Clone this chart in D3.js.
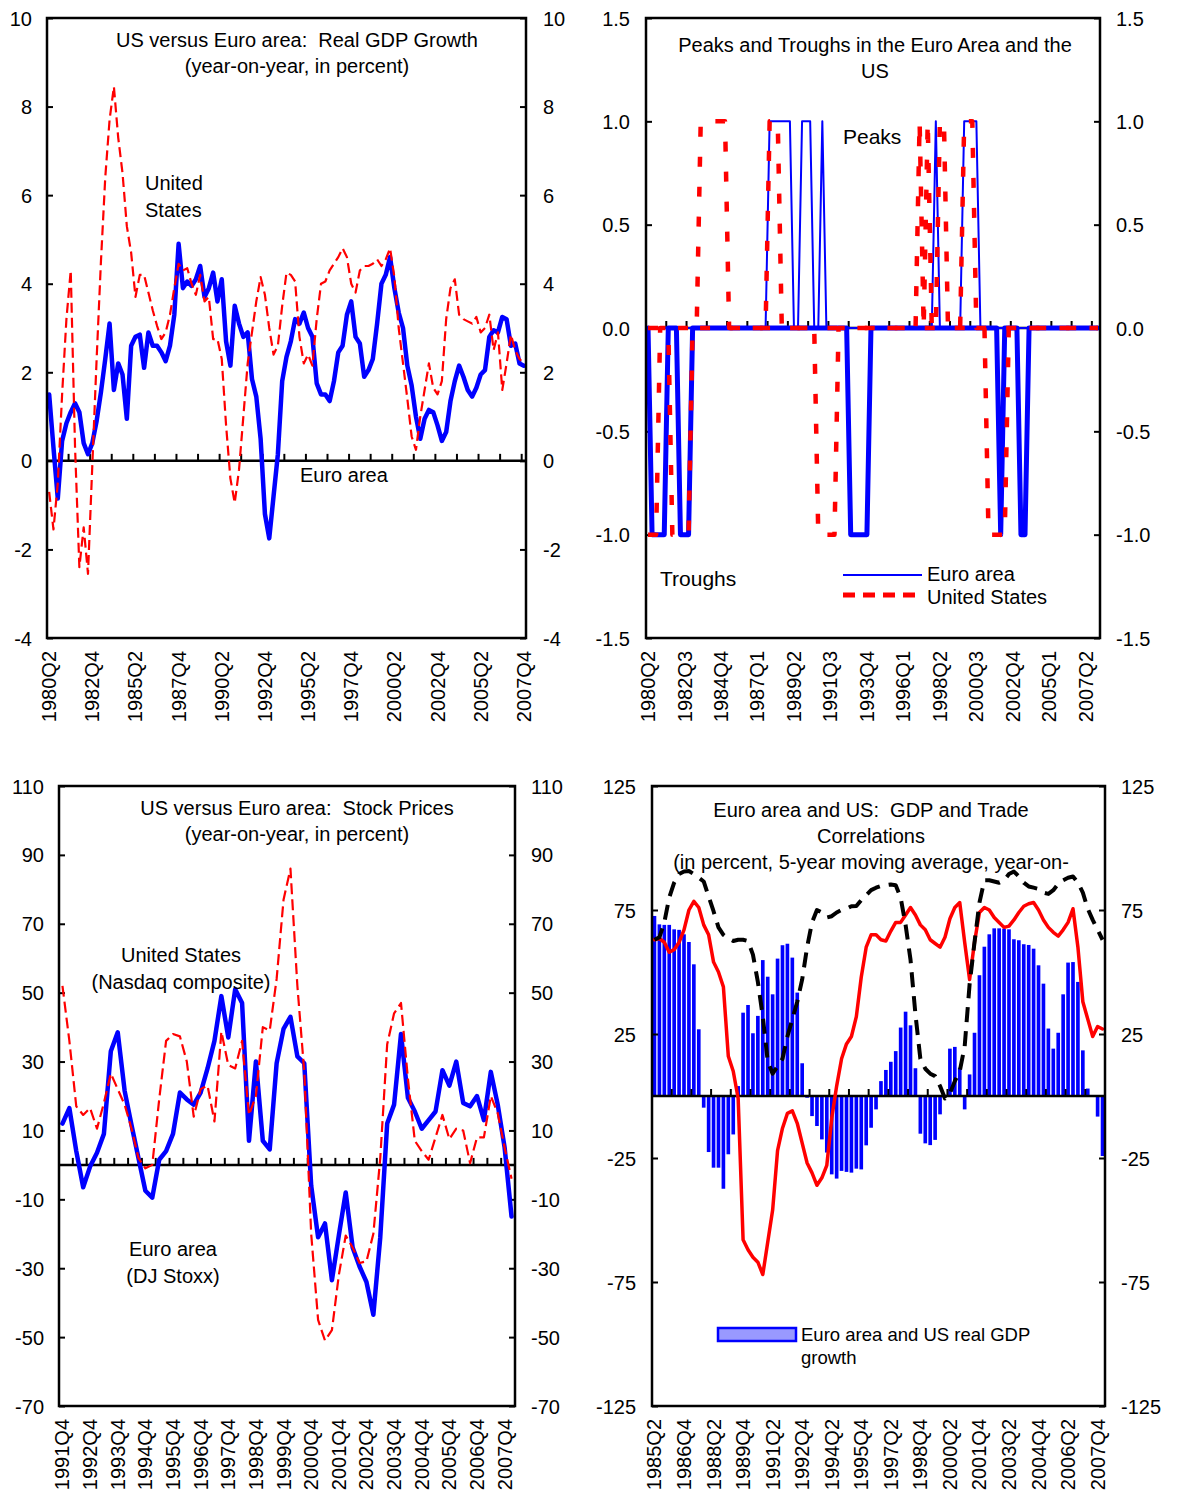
<!DOCTYPE html>
<html><head><meta charset="utf-8">
<script src="https://cdn.jsdelivr.net/npm/d3@7"></script>
<style>
body{margin:0;background:#fff;}
text{font-family:"Liberation Sans",Arial,sans-serif;font-size:20px;fill:#000;white-space:pre;}
</style>
</head><body>
<svg id="c" width="1177" height="1501" xmlns="http://www.w3.org/2000/svg"></svg>
<script>
function quarters(y, q, n) { const out = []; for (let k = 0; k < n; k++) { out.push(y + "Q" + q); q++; if (q > 4) { q = 1; y++; } } return out; }

// ---------- Panel 1: Real GDP growth ----------
const gdpCats = quarters(1980, 2, 111);
const gdpTickLabels = ["1980Q2","1982Q4","1985Q2","1987Q4","1990Q2","1992Q4","1995Q2","1997Q4","2000Q2","2002Q4","2005Q2","2007Q4"];
const gdpYTicks = [-4,-2,0,2,4,6,8,10];
const gdpEuro = [1.5,0.3,-0.85,0.45,0.85,1.1,1.3,1.1,0.4,0.15,
 0.4,0.9,1.55,2.3,3.1,1.6,2.2,1.95,0.95,2.6,
 2.8,2.85,2.1,2.9,2.6,2.6,2.45,2.25,2.6,3.3,
 4.9,3.9,4.05,3.95,4.1,4.4,3.7,3.9,4.25,3.6,
 4.1,2.7,2.15,3.5,3.1,2.8,2.9,1.85,1.45,0.5,
 -1.2,-1.75,-0.8,0.15,1.8,2.35,2.7,3.2,3.1,3.35,
 3.0,2.8,1.75,1.5,1.5,1.35,1.8,2.45,2.6,3.3,
 3.6,2.8,2.65,1.9,2.05,2.3,3.1,4.0,4.2,4.6,
 3.9,3.35,3.0,2.15,1.7,1.0,0.5,0.95,1.15,1.1,
 0.8,0.45,0.65,1.35,1.8,2.15,1.9,1.6,1.45,1.65,
 1.95,2.05,2.8,2.95,2.9,3.25,3.2,2.6,2.65,2.2,
 2.15];
const gdpUS = [-0.7,-1.55,-0.5,1.5,3.2,4.3,0.3,-2.4,-1.5,-2.55,
 -0.1,2.3,4.5,6.4,7.7,8.45,7.3,6.5,5.3,4.7,
 3.7,4.2,4.2,3.8,3.4,3.05,2.75,2.9,3.3,3.9,
 4.45,4.3,4.35,4.0,3.75,4.2,3.6,3.7,2.75,2.75,
 2.3,0.8,-0.4,-0.95,-0.2,1.0,2.2,2.9,3.6,4.15,
 3.75,3.0,2.4,2.6,3.5,4.25,4.2,4.05,2.8,2.2,
 2.4,2.15,3.2,4.0,4.05,4.3,4.45,4.6,4.8,4.6,
 4.0,3.8,4.3,4.4,4.4,4.45,4.55,4.4,4.55,4.8,
 4.15,3.0,2.2,1.4,0.55,0.25,1.0,1.6,2.2,1.65,
 1.5,1.8,3.2,3.9,4.1,3.3,3.2,3.15,3.1,3.25,
 2.9,3.0,3.3,2.5,2.9,1.6,2.2,2.85,2.5,2.3,
 2.2];

// ---------- Panel 2: Peaks and troughs ----------
const cycCats = quarters(1980, 2, 112);
const cycTickLabels = ["1980Q2","1982Q3","1984Q4","1987Q1","1989Q2","1991Q3","1993Q4","1996Q1","1998Q2","2000Q3","2002Q4","2005Q1","2007Q2"];
const cycYTicks = [-1.5,-1,-0.5,0,0.5,1,1.5];
const euroTroughs = [0,-1,-1,-1,-1,0,0,0,-1,-1,
 -1,0,0,0,0,0,0,0,0,0,
 0,0,0,0,0,0,0,0,0,0,
 0,0,0,0,0,0,0,0,0,0,
 0,0,0,0,0,0,0,0,0,0,
 -1,-1,-1,-1,-1,0,0,0,0,0,
 0,0,0,0,0,0,0,0,0,0,
 0,0,0,0,0,0,0,0,0,0,
 0,0,0,0,0,0,0,-1,0,0,
 0,0,-1,-1,0,0,0,0,0,0,
 0,0,0,0,0,0,0,0,0,0,
 0,0];
const euroPeaks = [0,0,0,0,0,0,0,0,0,0,
 0,0,0,0,0,0,0,0,0,0,
 0,0,0,0,0,0,0,0,0,0,
 1,1,1,1,1,1,0,0,1,1,
 1,0,0,1,0,0,0,0,0,0,
 0,0,0,0,0,0,0,0,0,0,
 0,0,0,0,0,0,0,0,0,0,
 0,1,0,0,0,0,0,0,1,1,
 1,1,0,0,0,0,0,0,0,0,
 0,0,0,0,0,0,0,0,0,0,
 0,0,0,0,0,0,0,0,0,0,
 0,0];
const usPeaks = [0,0,0,0,0,0,0,0,0,0,
 0,0,0,1,1,1,1,1,1,1,
 0,0,0,0,0,0,0,0,0,0,
 1,1,1,0,0,0,0,0,0,0,
 0,0,0,0,0,0,0,0,0,0,
 0,0,0,0,0,0,0,0,0,0,
 0,0,0,0,0,0,0,1,0,1,
 0,0,1,1,0,0,0,0,1,1,
 1,0,0,0,0,0,0,0,0,0,
 0,0,0,0,0,0,0,0,0,0,
 0,0,0,0,0,0,0,0,0,0,
 0,0];
const usTroughs = [-1,-1,-1,0,0,0,-1,-1,-1,-1,
 -1,0,0,0,0,0,0,0,0,0,
 0,0,0,0,0,0,0,0,0,0,
 0,0,0,0,0,0,0,0,0,0,
 0,0,-1,-1,-1,-1,-1,0,0,0,
 0,0,0,0,0,0,0,0,0,0,
 0,0,0,0,0,0,0,0,0,0,
 0,0,0,0,0,0,0,0,0,0,
 0,0,0,0,-1,-1,-1,-1,-1,0,
 0,0,0,0,0,0,0,0,0,0,
 0,0,0,0,0,0,0,0,0,0,
 0,0];

// ---------- Panel 3: Stock prices ----------
const stkCats = quarters(1991, 4, 66);
const stkTickLabels = ["1991Q4","1992Q4","1993Q4","1994Q4","1995Q4","1996Q4","1997Q4","1998Q4","1999Q4","2000Q4","2001Q4","2002Q4","2003Q4","2004Q4","2005Q4","2006Q4","2007Q4"];
const stkYTicks = [-70,-50,-30,-10,10,30,50,70,90,110];
const stkEuro = [12,16.5,4,-6.5,-0.5,3.5,9,33,38.5,21.5,
 11.5,2,-7.5,-9.5,1.5,4,9,21,19,17.5,
 21,28,36,49,37,51,47,7,30,7,
 4.5,29.5,39.5,43,31.5,29.5,-6,-21,-17,-33.5,
 -20.5,-8,-24,-29.5,-34,-43.5,-21,12,17.5,38,
 19.5,15.5,10.5,13,15.5,27.5,23,30,18,17,
 20,13,27,17.5,5,-15];
const stkUS = [52,36,17,14.5,16.5,10.5,18,26.5,22,17.5,
 10.5,2,-1,0,19,36,38,37.3,30,14,
 22,23,12.6,38.7,29,28,36,14.5,20,40,
 39,54,77,86,52,27,-20,-45,-51,-48,
 -32,-20.5,-24,-28.5,-28,-20,2,35,44,47,
 25,7,4,1.5,8,14.5,7.5,10.5,10,0.5,
 8,8,20,15,5,-4];

// ---------- Panel 4: GDP and trade correlations ----------
const corCats = quarters(1985, 2, 92);
const corTickLabels = ["1985Q2","1986Q4","1988Q2","1989Q4","1991Q2","1992Q4","1994Q2","1995Q4","1997Q2","1998Q4","2000Q2","2001Q4","2003Q2","2004Q4","2006Q2","2007Q4"];
const corYTicks = [-125,-75,-25,25,75,125];
const corGdpBars = [72.6,69.2,69,69,67.2,67,65.2,62.1,53.1,26.9,
 -4.7,-22.6,-28.9,-28.9,-37.4,-23.5,-15.5,4,33.6,36.7,
 25.3,32.3,54.8,48.1,41,55.4,60.8,61.4,55.8,41.7,
 13.2,-0.7,-8.1,-12.1,-17.5,-22.8,-31.6,-33.3,-30.2,-30.6,
 -30.9,-29.3,-29.6,-19.9,-12.8,-5.4,6,10.5,13.8,18.1,
 27.6,34,28.5,11.2,-15.2,-19.1,-19.8,-17.7,-7.4,0,
 19.1,19.8,11.4,-5.4,8.7,25.5,48.7,60.2,65.2,67.6,
 67.6,67.5,67.2,63.2,62.8,61.2,60.9,59.4,52.7,45.3,
 27.2,19.1,25.5,41,53.8,54,46,18.4,3,0,
 -8.3,-24.2];
const corRed = [63,63.5,62,58,59,62,67,75,78.5,76,
 69,65,54,50,44,16,10,-1,-58,-62,
 -65,-67,-72,-59,-46,-22,-13,-7,-6,-11,
 -19,-27,-31,-36,-33,-28,-9,4,15,21,
 24,32,48,60,65,65,63,62.5,66.5,70,
 70,73,76,73,69,67,63,61.5,60,64,
 71.5,76,78,62,47,62,74,76,75,72,
 70,68,68.5,71,74,76.5,77.5,78,75,71,
 68,66,64.5,67,70,75.5,60,38,31,24,
 28,27];
const corBlack = [63,64,70,80,86,89.5,90.5,90.7,89.5,88,
 86.5,80.5,74.5,68,65,63.5,62.5,63,63,62.5,
 57,46,32,14,9,12,15,24,31,38,
 47,60,70,75,74,72,72.5,74,75,75.5,
 76.5,76.6,79,81,83,84,84.7,85,85.3,85,
 80,69,55,33,15,11,9,8,4,-1,
 1,6,10,20,45,62,78,87,87,86.5,
 86,87,89.5,90.5,88.5,86,84.5,84,83.5,82,
 81.5,83,85.5,87,88,88.5,86,82,75.5,71,
 67,63];

const BLUE = "#0000FF", RED = "#FF0000";
const svg = d3.select("#c");
const hy = f => d => f(d).replace("\u2212", "-");

function panel(p) {
  const g = svg.append("g");
  const x = d3.scaleBand().domain(p.cats).range([p.left, p.right]);
  const y = d3.scaleLinear().domain(p.yDomain).range([p.bottom, p.top]);
  const bw = x.bandwidth();
  const cx = c => x(c) + bw / 2;
  const la = g.append("g").attr("transform", `translate(${p.left},0)`)
    .call(d3.axisLeft(y).tickValues(p.yTicks).tickFormat(p.fmt).tickSize(-6).tickPadding(p.padL));
  const ra = g.append("g").attr("transform", `translate(${p.right},0)`)
    .call(d3.axisRight(y).tickValues(p.yTicks).tickFormat(p.fmt).tickSize(-6).tickPadding(p.padR));
  [la, ra].forEach(a => {
    a.attr("font-family", null).attr("font-size", null);
    a.select(".domain").remove();
    a.selectAll(".tick line").attr("stroke", "#000").attr("stroke-width", 2);
    a.selectAll(".tick text").attr("dy", "0.35em");
  });
  const y0 = y(0);
  const base = g.append("g");
  base.append("line").attr("x1", p.left).attr("x2", p.right).attr("y1", y0).attr("y2", y0)
    .attr("stroke", "#000").attr("stroke-width", 2.5);
  const tks = d3.range(p.tickEvery, p.cats.length, p.tickEvery);
  base.selectAll("line.t").data(tks).join("line").attr("class", "t")
    .attr("x1", k => p.left + k * bw).attr("x2", k => p.left + k * bw)
    .attr("y1", y0).attr("y2", y0 - 7).attr("stroke", "#000").attr("stroke-width", 2);
  g.selectAll("text.xl").data(p.xLabels).join("text").attr("class", "xl")
    .attr("transform", l => `translate(${cx(l)},${p.bottom + 13}) rotate(-90)`)
    .attr("text-anchor", "end").attr("dy", "0.35em").text(l => l);
  return {g, x, y, cx, bw, base, frame: () => g.append("rect").attr("x", p.left).attr("y", p.top)
    .attr("width", p.right - p.left).attr("height", p.bottom - p.top)
    .attr("fill", "none").attr("stroke", "#000").attr("stroke-width", 2.5)};
}
function addLine(P, cats, vals, color, width, dash) {
  const line = d3.line().x((d, i) => P.cx(cats[i])).y(d => P.y(d));
  const path = P.g.append("path").datum(vals).attr("d", line).attr("fill", "none")
    .attr("stroke", color).attr("stroke-width", width).attr("stroke-linejoin", "round");
  if (dash) path.attr("stroke-dasharray", dash); else path.attr("stroke-linecap", "round");
  return path;
}
function label(lines, x, y0, dy, anchor, size) {
  lines.forEach((t, k) => {
    const el = svg.append("text").attr("x", x).attr("y", y0 + k * dy)
      .attr("dy", "0.35em").attr("text-anchor", anchor).text(t);
    if (size) el.style("font-size", size + "px");
  });
}

// Panel 1
const P1 = panel({cats: gdpCats, left: 47, right: 526, top: 18, bottom: 638, yDomain: [-4, 10],
  yTicks: gdpYTicks, fmt: hy(d3.format("d")), padL: 15, padR: 17, tickEvery: 5, xLabels: gdpTickLabels});
addLine(P1, gdpCats, gdpEuro, BLUE, 4.5);
addLine(P1, gdpCats, gdpUS, RED, 2.2, "10,5");
P1.frame();
label(["US versus Euro area:  Real GDP Growth", "(year-on-year, in percent)"], 297, 40, 26, "middle");
label(["United", "States"], 145, 183, 27, "start");
label(["Euro area"], 300, 475, 0, "start");

// Panel 2
const P2 = panel({cats: cycCats, left: 646, right: 1100, top: 18, bottom: 638, yDomain: [-1.5, 1.5],
  yTicks: cycYTicks, fmt: hy(d3.format(".1f")), padL: 16, padR: 16, tickEvery: 5, xLabels: cycTickLabels});
addLine(P2, cycCats, euroTroughs, BLUE, 5);
addLine(P2, cycCats, euroPeaks, BLUE, 2);
addLine(P2, cycCats, usTroughs, RED, 4.5, "10,20");
addLine(P2, cycCats, usPeaks, RED, 4.5, "10,20");
P2.frame();
label(["Peaks and Troughs in the Euro Area and the", "US"], 875, 45, 26, "middle");
label(["Peaks"], 843, 137, 0, "start", 21);
label(["Troughs"], 660, 579, 0, "start", 21);
svg.append("line").attr("x1", 843).attr("x2", 922).attr("y1", 575).attr("y2", 575).attr("stroke", BLUE).attr("stroke-width", 2);
svg.append("line").attr("x1", 843).attr("x2", 918).attr("y1", 595).attr("y2", 595).attr("stroke", RED).attr("stroke-width", 5).attr("stroke-dasharray", "12,8");
label(["Euro area"], 927, 574, 0, "start", 20);
label(["United States"], 927, 597, 0, "start", 20);

// Panel 3
const P3 = panel({cats: stkCats, left: 59, right: 515, top: 786, bottom: 1406, yDomain: [-70, 110],
  yTicks: stkYTicks, fmt: hy(d3.format("d")), padL: 15, padR: 16, tickEvery: 2, xLabels: stkTickLabels});
addLine(P3, stkCats, stkEuro, BLUE, 4.5);
addLine(P3, stkCats, stkUS, RED, 2.2, "11,5");
P3.frame();
label(["US versus Euro area:  Stock Prices", "(year-on-year, in percent)"], 297, 808, 26, "middle");
label(["United States", "(Nasdaq composite)"], 181, 955, 27, "middle");
label(["Euro area", "(DJ Stoxx)"], 173, 1249, 27, "middle");

// Panel 4
const P4 = panel({cats: corCats, left: 652, right: 1105, top: 786, bottom: 1406, yDomain: [-125, 125],
  yTicks: corYTicks, fmt: hy(d3.format("d")), padL: 16, padR: 16, tickEvery: 4, xLabels: corTickLabels});
const pad = 0.26;
P4.g.insert("g", ":first-child").selectAll("rect").data(corGdpBars).join("rect")
  .attr("x", (d, i) => P4.x(corCats[i]) + P4.bw * pad / 2)
  .attr("width", P4.bw * (1 - pad))
  .attr("y", d => P4.y(Math.max(0, d)))
  .attr("height", d => Math.abs(P4.y(d) - P4.y(0)))
  .attr("fill", BLUE);
P4.base.raise();
addLine(P4, corCats, corRed, RED, 3.5);
addLine(P4, corCats, corBlack, "#000", 4, "15,9");
P4.frame();
label(["Euro area and US:  GDP and Trade", "Correlations", "(in percent, 5-year moving average, year-on-"], 871, 810, 26, "middle");
svg.append("rect").attr("x", 718).attr("y", 1328).attr("width", 78).attr("height", 13)
  .attr("fill", "#9999FF").attr("stroke", BLUE).attr("stroke-width", 2.5);
label(["Euro area and US real GDP", "growth"], 801, 1335, 23, "start", 18.5);
</script>
</body></html>
